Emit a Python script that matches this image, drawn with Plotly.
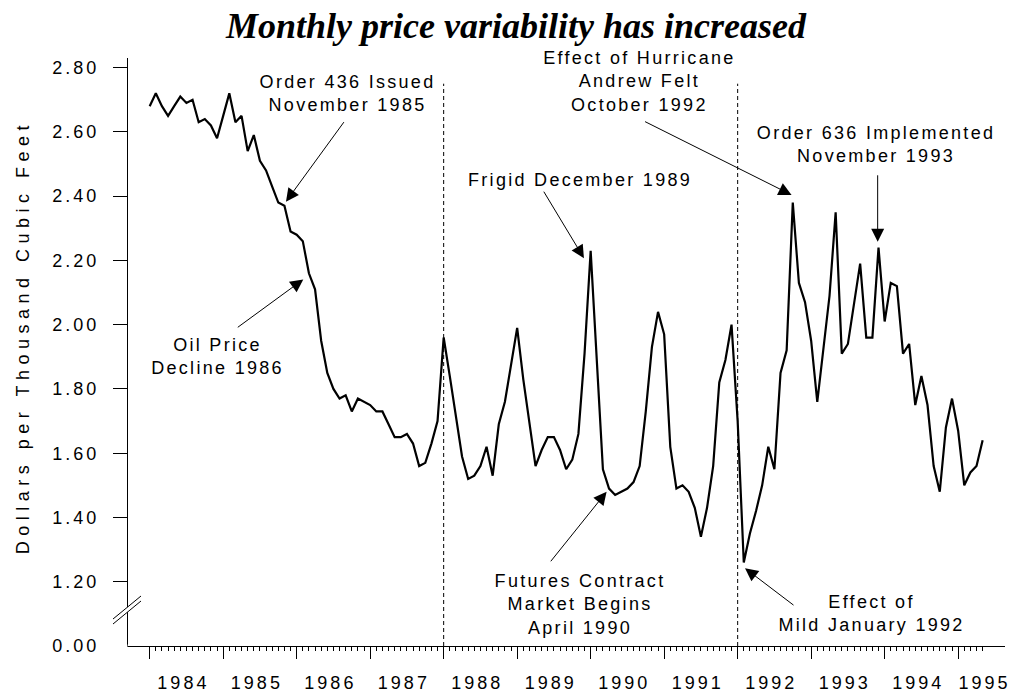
import plotly.graph_objects as go

# ---------------- data (monthly, Jan 1984 .. May 1995) ----------------
prices_1984 = [2.68, 2.72, 2.68, 2.65, 2.68, 2.71, 2.69, 2.70, 2.63, 2.64, 2.62, 2.58]
prices_1985 = [2.65, 2.72, 2.63, 2.65, 2.54, 2.59, 2.51, 2.48, 2.43, 2.38, 2.37, 2.29]
prices_1986 = [2.28, 2.26, 2.16, 2.11, 1.95, 1.85, 1.80, 1.77, 1.78, 1.73, 1.77, 1.76]
prices_1987 = [1.75, 1.73, 1.73, 1.69, 1.65, 1.65, 1.66, 1.63, 1.56, 1.57, 1.63, 1.70]
prices_1988 = [1.96, 1.84, 1.71, 1.59, 1.52, 1.53, 1.56, 1.62, 1.53, 1.69, 1.76, 1.88]
prices_1989 = [1.99, 1.83, 1.69, 1.56, 1.61, 1.65, 1.65, 1.61, 1.55, 1.58, 1.66, 1.91]
prices_1990 = [2.23, 1.89, 1.55, 1.49, 1.47, 1.48, 1.49, 1.51, 1.56, 1.73, 1.93, 2.04]
prices_1991 = [1.97, 1.62, 1.49, 1.50, 1.48, 1.43, 1.34, 1.43, 1.56, 1.82, 1.89, 2.00]
prices_1992 = [1.70, 1.26, 1.35, 1.42, 1.50, 1.62, 1.55, 1.85, 1.92, 2.38, 2.13, 2.07]
prices_1993 = [1.95, 1.76, 1.93, 2.09, 2.35, 1.91, 1.94, 2.06, 2.19, 1.96, 1.96, 2.24]
prices_1994 = [2.01, 2.13, 2.12, 1.91, 1.94, 1.75, 1.84, 1.75, 1.56, 1.48, 1.68, 1.77]
prices_1995 = [1.67, 1.50, 1.54, 1.56, 1.64]

prices = (prices_1984 + prices_1985 + prices_1986 + prices_1987 + prices_1988 +
          prices_1989 + prices_1990 + prices_1991 + prices_1992 + prices_1993 +
          prices_1994 + prices_1995)
month_index = list(range(len(prices)))

year_labels = ["1984", "1985", "1986", "1987", "1988", "1989",
               "1990", "1991", "1992", "1993", "1994", "1995"]
year_label_pos = [5.5, 17.5, 29.5, 41.5, 53.5, 65.5, 77.5, 89.5, 101.5, 113.5, 125.5, 136.3]
year_start_ticks = [0, 12, 24, 36, 48, 60, 72, 84, 96, 108, 120, 132]
month_ticks = list(range(0, 137))

y_tick_vals = [1.0, 1.2, 1.4, 1.6, 1.8, 2.0, 2.2, 2.4, 2.6, 2.8]
y_tick_text = ["0.00", "1.20", "1.40", "1.60", "1.80", "2.00", "2.20", "2.40", "2.60", "2.80"]

event_months = [48, 96]

title_text = "Monthly price variability has increased"
y_title = "Dollars per Thousand Cubic Feet"

# ---------------- geometry ----------------
W, H = 1015, 692
ML, MR, MT, MB = 128, 10, 58, 46
PW, PH = W - ML - MR, H - MT - MB
X_RANGE = [-3.54, 139.65]
Y_RANGE = [1.0, 2.83]


def px_x(px):
    return (px - ML) / PW


def px_y(py):
    return (H - MB - py) / PH


SANS = "Liberation Sans, Arial, sans-serif"

fig = go.Figure()
fig.add_trace(go.Scatter(x=month_index, y=prices, mode="lines",
                         line=dict(color="black", width=2.2),
                         showlegend=False, hoverinfo="skip"))
# empty trace to carry the year-label axis
fig.add_trace(go.Scatter(x=[], y=[], xaxis="x2", showlegend=False, hoverinfo="skip"))

# notes: text, text centre (px), arrow tip (month, value), tail offset (px)
notes = [
    dict(text="Order 436 Issued<br>November 1985", cx=347, cy=93, tip=(22.25, 2.383), off=(59, -81)),
    dict(text="Oil Price<br>Decline 1986", cx=217, cy=356, tip=(25.08, 2.141), off=(-67, 49)),
    dict(text="Frigid December 1989", cx=580, cy=180, tip=(70.9, 2.207), off=(-41, -68)),
    dict(text="Effect of Hurricane<br>Andrew Felt<br>October 1992", cx=639, cy=81, tip=(104.8, 2.404), off=(-148, -74)),
    dict(text="Order 636 Implemented<br>November 1993", cx=876, cy=144, tip=(118.86, 2.258), off=(0, -68)),
    dict(text="Futures Contract<br>Market Begins<br>April 1990", cx=580, cy=604, tip=(74.6, 1.480), off=(-57, 71)),
    dict(text="Effect of<br>Mild January 1992", cx=871, cy=613, tip=(97.2, 1.242), off=(50, 38)),
]

annotations = [
    dict(text=y_title, x=px_x(23), y=px_y(337), xref="paper", yref="paper",
         textangle=-90, showarrow=False, xanchor="center", yanchor="middle",
         font=dict(family=SANS, size=18, color="black")),
]
for n in notes:
    annotations.append(dict(text=n["text"], x=px_x(n["cx"]), y=px_y(n["cy"]),
                            xref="paper", yref="paper", showarrow=False,
                            xanchor="center", yanchor="middle", align="center",
                            font=dict(family=SANS, size=18, color="black")))
for n in notes:
    annotations.append(dict(text="", x=n["tip"][0], y=n["tip"][1], xref="x", yref="y",
                            ax=n["off"][0], ay=n["off"][1], showarrow=True,
                            arrowhead=2, arrowsize=2.6, arrowwidth=1, arrowcolor="black",
                            standoff=0, startstandoff=0))

shapes = []
for m in event_months:
    shapes.append(dict(type="line", xref="x", yref="y", x0=m, x1=m, y0=Y_RANGE[0], y1=2.75,
                       line=dict(color="black", width=1, dash="4px,3px"), layer="below"))
# hide tick mark at the broken-axis origin
shapes.append(dict(type="line", xref="paper", yref="paper", x0=px_x(110), x1=px_x(127.4),
                   y0=0, y1=0, line=dict(color="white", width=3), layer="above"))
# axis break marks
shapes.append(dict(type="path", xref="paper", yref="paper",
                   path="M{},{} L{},{} L{},{} L{},{} Z".format(
                       px_x(113), px_y(619), px_x(141), px_y(596),
                       px_x(141), px_y(601), px_x(113), px_y(624)),
                   fillcolor="white", line=dict(width=0), layer="above"))
for (a, b) in [((113, 619), (141, 596)), ((113, 624), (141, 601))]:
    shapes.append(dict(type="line", xref="paper", yref="paper",
                       x0=px_x(a[0]), y0=px_y(a[1]), x1=px_x(b[0]), y1=px_y(b[1]),
                       line=dict(color="black", width=1), layer="above"))

fig.update_layout(
    width=W, height=H,
    margin=dict(l=ML, r=MR, t=MT, b=MB, pad=0, autoexpand=False),
    paper_bgcolor="white", plot_bgcolor="white",
    title=dict(text=title_text, xref="container", yref="container",
               x=516 / W, y=1 - 25 / H, xanchor="center", yanchor="middle",
               automargin=False,
               font=dict(family="Liberation Serif, Times New Roman, serif", size=36,
                         color="black", weight="bold", style="italic")),
    xaxis=dict(range=X_RANGE, showline=True, linecolor="black", linewidth=1,
               showgrid=False, zeroline=False, tickmode="array", automargin=False,
               tickvals=year_start_ticks, ticks="outside", ticklen=12, tickwidth=1,
               tickcolor="black", showticklabels=False,
               minor=dict(tickmode="array", tickvals=month_ticks, ticks="outside",
                          ticklen=4, tickwidth=1, tickcolor="black", showgrid=False)),
    xaxis2=dict(range=X_RANGE, overlaying="x", anchor="y", side="bottom", automargin=False,
                showline=False, showgrid=False, zeroline=False, tickmode="array",
                tickvals=year_label_pos, ticktext=year_labels, ticks="",
                ticklabelstandoff=24,
                tickfont=dict(family=SANS, size=18, color="black")),
    yaxis=dict(range=Y_RANGE, showline=True, linecolor="black", linewidth=1,
               showgrid=False, zeroline=False, tickmode="array", automargin=False,
               tickvals=y_tick_vals, ticktext=y_tick_text, ticks="outside",
               ticklen=14, tickwidth=1, tickcolor="black", ticklabelstandoff=10,
               tickfont=dict(family=SANS, size=18, color="black")),
    annotations=annotations,
    shapes=shapes,
    showlegend=False,
)

post = """
var gd = document.getElementById('{plot_id}');
document.body.style.margin = '0';
function ls(){
  gd.querySelectorAll('g.xtick text, g.x2tick text, g.ytick text').forEach(function(t){t.style.letterSpacing='3px';});
  gd.querySelectorAll('g.annotation text.annotation-text').forEach(function(t){t.style.letterSpacing='2.3px';});
  var yl = gd.querySelector('g.annotation[data-index="0"] text.annotation-text');
  if (yl) { yl.style.letterSpacing = '5.5px'; }
}
ls();
gd.on('plotly_afterplot', ls);
"""

fig.write_html("out.html", config={"displayModeBar": False}, post_script=post)
